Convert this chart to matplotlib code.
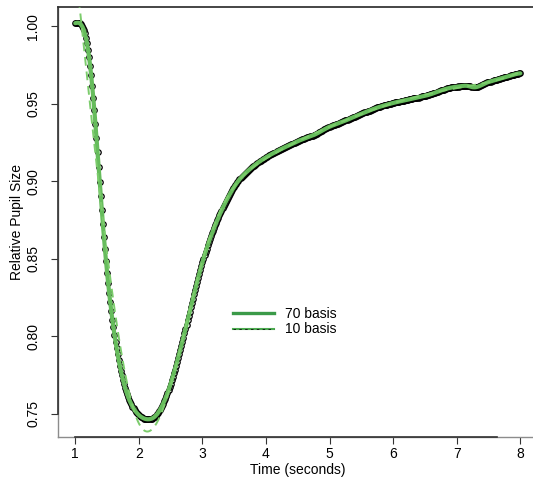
import numpy as np
import matplotlib
matplotlib.use("Agg")
import matplotlib.pyplot as plt
from matplotlib.lines import Line2D
from matplotlib.legend_handler import HandlerTuple

plt.rcParams["font.family"] = ["Liberation Sans", "DejaVu Sans"]

# Relative pupil size sampled at 60 Hz, starting at t = 1 s
sample_rate = 60.0
t_start = 1.0
pupil = [
    1.0021, 1.0023, 1.0025, 1.0024, 1.0020, 1.0014, 1.0006, 0.9993, 0.9976, 0.9955,
    0.9928, 0.9892, 0.9850, 0.9800, 0.9745, 0.9685, 0.9614, 0.9538, 0.9460, 0.9370,
    0.9280, 0.9188, 0.9093, 0.8998, 0.8905, 0.8815, 0.8727, 0.8640, 0.8560, 0.8484,
    0.8410, 0.8343, 0.8279, 0.8218, 0.8161, 0.8107, 0.8056, 0.8009, 0.7964, 0.7921,
    0.7882, 0.7845, 0.7810, 0.7777, 0.7747, 0.7718, 0.7692, 0.7668, 0.7645, 0.7625,
    0.7606, 0.7588, 0.7573, 0.7559, 0.7545, 0.7534, 0.7523, 0.7513, 0.7505, 0.7497,
    0.7490, 0.7485, 0.7479, 0.7475, 0.7471, 0.7468, 0.7466, 0.7464, 0.7463, 0.7463,
    0.7464, 0.7465, 0.7467, 0.7471, 0.7475, 0.7480, 0.7487, 0.7495, 0.7503, 0.7514,
    0.7525, 0.7537, 0.7551, 0.7565, 0.7580, 0.7597, 0.7614, 0.7632, 0.7652, 0.7672,
    0.7692, 0.7714, 0.7737, 0.7760, 0.7784, 0.7809, 0.7834, 0.7860, 0.7885, 0.7911,
    0.7937, 0.7963, 0.7989, 0.8018, 0.8045, 0.8074, 0.8103, 0.8130, 0.8159, 0.8187,
    0.8215, 0.8243, 0.8270, 0.8297, 0.8324, 0.8351, 0.8377, 0.8403, 0.8428, 0.8454,
    0.8478, 0.8501, 0.8524, 0.8545, 0.8565, 0.8586, 0.8606, 0.8625, 0.8644, 0.8663,
    0.8681, 0.8698, 0.8716, 0.8732, 0.8749, 0.8765, 0.8780, 0.8796, 0.8811, 0.8825,
    0.8840, 0.8854, 0.8867, 0.8881, 0.8894, 0.8906, 0.8919, 0.8931, 0.8942, 0.8954,
    0.8965, 0.8975, 0.8985, 0.8995, 0.9004, 0.9012, 0.9020, 0.9028, 0.9035, 0.9042,
    0.9048, 0.9056, 0.9062, 0.9068, 0.9074, 0.9080, 0.9085, 0.9092, 0.9097, 0.9102,
    0.9108, 0.9113, 0.9118, 0.9123, 0.9128, 0.9132, 0.9138, 0.9142, 0.9146, 0.9151,
    0.9155, 0.9159, 0.9163, 0.9167, 0.9170, 0.9174, 0.9178, 0.9182, 0.9185, 0.9190,
    0.9193, 0.9197, 0.9200, 0.9204, 0.9206, 0.9211, 0.9214, 0.9217, 0.9220, 0.9224,
    0.9226, 0.9231, 0.9233, 0.9237, 0.9240, 0.9244, 0.9246, 0.9250, 0.9253, 0.9256,
    0.9259, 0.9262, 0.9264, 0.9268, 0.9270, 0.9273, 0.9275, 0.9279, 0.9280, 0.9284,
    0.9285, 0.9288, 0.9290, 0.9294, 0.9295, 0.9300, 0.9302, 0.9304, 0.9307, 0.9312,
    0.9316, 0.9321, 0.9323, 0.9327, 0.9330, 0.9335, 0.9338, 0.9343, 0.9346, 0.9349,
    0.9352, 0.9356, 0.9357, 0.9362, 0.9363, 0.9366, 0.9368, 0.9372, 0.9373, 0.9377,
    0.9379, 0.9381, 0.9383, 0.9387, 0.9389, 0.9393, 0.9395, 0.9398, 0.9400, 0.9404,
    0.9406, 0.9411, 0.9413, 0.9416, 0.9418, 0.9422, 0.9424, 0.9429, 0.9430, 0.9433,
    0.9435, 0.9439, 0.9441, 0.9446, 0.9447, 0.9450, 0.9452, 0.9456, 0.9457, 0.9462,
    0.9463, 0.9466, 0.9468, 0.9471, 0.9473, 0.9477, 0.9478, 0.9480, 0.9482, 0.9485,
    0.9486, 0.9490, 0.9490, 0.9493, 0.9494, 0.9497, 0.9498, 0.9501, 0.9502, 0.9504,
    0.9505, 0.9508, 0.9509, 0.9512, 0.9512, 0.9514, 0.9515, 0.9518, 0.9518, 0.9521,
    0.9521, 0.9523, 0.9523, 0.9527, 0.9527, 0.9530, 0.9530, 0.9532, 0.9532, 0.9536,
    0.9536, 0.9539, 0.9539, 0.9541, 0.9541, 0.9545, 0.9545, 0.9548, 0.9548, 0.9550,
    0.9550, 0.9554, 0.9555, 0.9558, 0.9559, 0.9561, 0.9562, 0.9566, 0.9568, 0.9572,
    0.9573, 0.9576, 0.9577, 0.9581, 0.9583, 0.9587, 0.9588, 0.9591, 0.9592, 0.9596,
    0.9597, 0.9600, 0.9600, 0.9602, 0.9603, 0.9606, 0.9606, 0.9609, 0.9608, 0.9610,
    0.9610, 0.9613, 0.9612, 0.9615, 0.9614, 0.9616, 0.9615, 0.9617, 0.9616, 0.9617,
    0.9615, 0.9615, 0.9614, 0.9613, 0.9610, 0.9609, 0.9606, 0.9606, 0.9606, 0.9609,
    0.9610, 0.9615, 0.9616, 0.9620, 0.9622, 0.9627, 0.9629, 0.9634, 0.9636, 0.9639,
    0.9640, 0.9643, 0.9644, 0.9648, 0.9649, 0.9651, 0.9652, 0.9655, 0.9656, 0.9660,
    0.9661, 0.9663, 0.9664, 0.9667, 0.9668, 0.9672, 0.9673, 0.9675, 0.9676, 0.9679,
    0.9680, 0.9684, 0.9685, 0.9687, 0.9688, 0.9691, 0.9692, 0.9695, 0.9695, 0.9697,
    0.9697,
]
basis_sizes = [70, 10]
legend_labels = ["70 basis", "10 basis"]
x_ticks = [1, 2, 3, 4, 5, 6, 7, 8]
y_ticks = [0.75, 0.80, 0.85, 0.90, 0.95, 1.00]

y = np.asarray(pupil)
t = t_start + np.arange(len(y)) / sample_rate


def bspline_design(x, nbasis, lo, hi, order=4):
    """Cubic B-spline basis matrix with equally spaced knots on [lo, hi]."""
    breaks = np.linspace(lo, hi, nbasis - order + 2)
    knots = np.concatenate([np.repeat(lo, order - 1), breaks, np.repeat(hi, order - 1)])
    B = np.zeros((len(x), len(knots) - 1))
    for i in range(len(knots) - 1):
        if knots[i] < knots[i + 1]:
            B[:, i] = (x >= knots[i]) & (x < knots[i + 1])
    last = np.nonzero(knots[:-1] < knots[1:])[0].max()
    B[x >= hi, last] = 1.0
    for k in range(1, order):
        Bn = np.zeros((len(x), len(knots) - 1 - k))
        for i in range(len(knots) - 1 - k):
            d1 = knots[i + k] - knots[i]
            d2 = knots[i + k + 1] - knots[i + 1]
            term = np.zeros(len(x))
            if d1 > 0:
                term += (x - knots[i]) / d1 * B[:, i]
            if d2 > 0:
                term += (knots[i + k + 1] - x) / d2 * B[:, i + 1]
            Bn[:, i] = term
        B = Bn
    return B


# least-squares smooths of the pupil trace with two basis sizes
lo, hi = t.min(), t.max()
t_fine = np.linspace(lo, hi, 1500)
fits = {}
for nb in basis_sizes:
    coef, *_ = np.linalg.lstsq(bspline_design(t, nb, lo, hi), y, rcond=None)
    fits[nb] = bspline_design(t_fine, nb, lo, hi) @ coef

W, H = 533, 479
fig = plt.figure(figsize=(W / 100, H / 100), dpi=100)
ax = fig.add_axes([57.5 / W, 42.5 / H, (538 - 57.5) / W, (471.6 - 42.5) / H])

green_fit = "#66bc5c"
green_dash = "#7ccc6c"
green_key = "#3b9a48"

ax.plot(t, y, linestyle="none", marker="o", markersize=3.9,
        markerfacecolor="none", markeredgecolor="black", markeredgewidth=0.9, zorder=2)
ax.plot(t_fine, fits[70], color=green_fit, linewidth=3.0, solid_capstyle="round", zorder=3)
ax.plot(t_fine, fits[10], color=green_dash, linewidth=1.4, dashes=(4.5, 3), zorder=4)

ax.set_xlim(0.72, 8.28)
ax.set_ylim(0.7352, 1.0123)

ax.set_xticks(x_ticks)
ax.set_xticklabels([str(v) for v in x_ticks], fontsize=10)
ax.set_yticks(y_ticks)
ax.set_yticklabels([f"{v:.2f}" for v in y_ticks], fontsize=10, rotation=90, va="center")
ax.tick_params(axis="x", direction="out", length=5, width=0.8, color="#333333", pad=2.5)
ax.tick_params(axis="y", direction="out", length=5, width=0.8, color="#333333", pad=7.5)

ax.set_xlabel("Time (seconds)", fontsize=10, labelpad=1.5)
ax.set_ylabel("Relative Pupil Size", fontsize=10, labelpad=1.5)

for side in ["left", "bottom"]:
    ax.spines[side].set_color("#8c8c8c")
    ax.spines[side].set_linewidth(1.0)
ax.spines["top"].set_color("#262626")
ax.spines["top"].set_linewidth(1.2)
ax.spines["right"].set_visible(False)

# darker axis segments drawn over the lighter frame
ax.plot([0, 0], [y_ticks[0], 1.0123], color="#333333", linewidth=1.2,
        transform=ax.get_yaxis_transform(), clip_on=False, zorder=5)
ax.plot([x_ticks[0], 7.63], [0, 0], color="#333333", linewidth=1.2,
        transform=ax.get_xaxis_transform(), clip_on=False, zorder=5)

key70 = Line2D([], [], color=green_key, linewidth=2.4)
key10a = Line2D([], [], color="#4caa50", linewidth=1.5)
key10b = Line2D([], [], color="#111111", linewidth=0.6, dashes=(3, 4))
ax.legend([key70, (key10a, key10b)], legend_labels,
          handler_map={tuple: HandlerTuple(ndivide=1, pad=0)},
          loc="upper left", bbox_to_anchor=(0.366, 0.301), frameon=False,
          fontsize=10, handlelength=2.95, handletextpad=0.75, labelspacing=0.08,
          borderpad=0, borderaxespad=0)

fig.savefig("out.png", dpi=100)
